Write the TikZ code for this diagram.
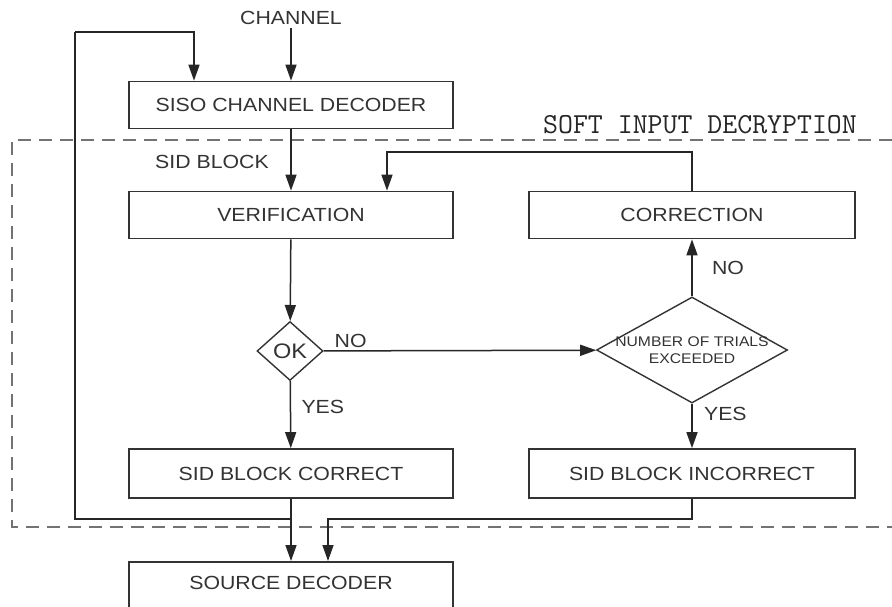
\documentclass[tikz,border=0pt]{standalone}
\usepackage{fontspec}
\setmainfont{Liberation Sans}[FakeStretch=1.12]
\usetikzlibrary{positioning,arrows.meta,shapes.geometric}

\tikzset{
  box/.style={draw=black!80, line width=1.7pt, minimum width=324pt, minimum height=47pt,
    inner sep=0pt, font=\fontsize{19}{22}\selectfont, text=black!80},
  test/.style={diamond, draw=black!80, line width=1.4pt, inner sep=0pt, text=black!80},
  flow/.style={draw=black!85, line width=1.5pt, -{Triangle[length=16pt,width=11pt]}},
  wire/.style={draw=black!85, line width=1.5pt},
  tag/.style={font=\fontsize{19}{22}\selectfont, text=black!80},
  frame/.style={draw=black!55, line width=1.8pt, dash pattern=on 13pt off 8pt},
}

\begin{document}
\begin{tikzpicture}[x=1pt, y=-1pt]
    \clip (0, 0) rectangle (892, 607);
    \fill[white] (0, 0) rectangle (892, 607);

        %%soft input decryption frame
        \draw[frame] (892, 140) -- (12, 140) -- (12, 527) -- (892, 527);
            \node[font=\ttfamily\fontsize{29}{32}\selectfont, text=black!85] (sidtitle) at (700, 125){SOFT INPUT DECRYPTION};

        %%boxes
        \node[tag] (chan) at (291, 18){CHANNEL};
        \node[box] (siso) at (291, 105){SISO CHANNEL DECODER};
        \node[box] (ver) at (291, 215){VERIFICATION};
            \node[tag] (sidblock) at (212, 162){SID BLOCK};
        \node[box, minimum width=326pt] (corr) at (692, 215){CORRECTION};
        \node[box, minimum height=49pt] (sidc) at (291, 473.5){SID BLOCK CORRECT};
        \node[box, minimum width=326pt, minimum height=49pt] (sidi) at (692, 473.5){SID BLOCK INCORRECT};
        \node[box, anchor=north, minimum height=70pt] (src) at (291, 561){};
            \node[tag] (srctext) at (291, 583){SOURCE DECODER};

        %%tests
        \node[test, minimum width=66pt, minimum height=59pt, font=\fontsize{21}{24}\selectfont] (ok) at (290, 351){OK};
        \node[test, aspect=1.8, minimum width=191pt, minimum height=106pt,
            label={[align=center, text=black!80, font=\fontsize{14}{17}\selectfont]center:NUMBER OF TRIALS\\EXCEEDED}] (trials) at (692, 350){};

        %%feedback corners
        \coordinate (fbl) at (75, 519);
        \coordinate (fbt) at (75, 32);

        %%connectors
        \draw[flow] (chan) -- (siso);
        \draw[flow] (siso) -- (ver);
        \draw[flow] (ver) -- (ok);
        \draw[flow] (ok) -- (sidc)
            node[tag, pos=0.38, right=7pt]{YES};
        \draw[flow] (ok) -- (trials)
            node[tag, pos=0.0, above right=-1pt and 7pt]{NO};
        \draw[flow] (trials) -- (corr)
            node[tag, midway, right=16pt]{NO};
        \draw[flow] (trials) -- (sidi)
            node[tag, pos=0.22, right=8pt]{YES};
        \draw[flow] (corr.north) |- ([xshift=96pt]ver.north |- 0, 152) -- ([xshift=96pt]ver.north);
        \draw[flow] (sidc) -- (src.north);
        \draw[wire] (sidc.south |- fbl) -- (fbl) -- (fbt);
        \draw[flow] (fbt) -| ([xshift=-97pt]siso.north);
        \draw[flow] (sidi.south) |- ([xshift=37pt]src.north |- fbl) -- ([xshift=37pt]src.north);
\end{tikzpicture}
\end{document}
